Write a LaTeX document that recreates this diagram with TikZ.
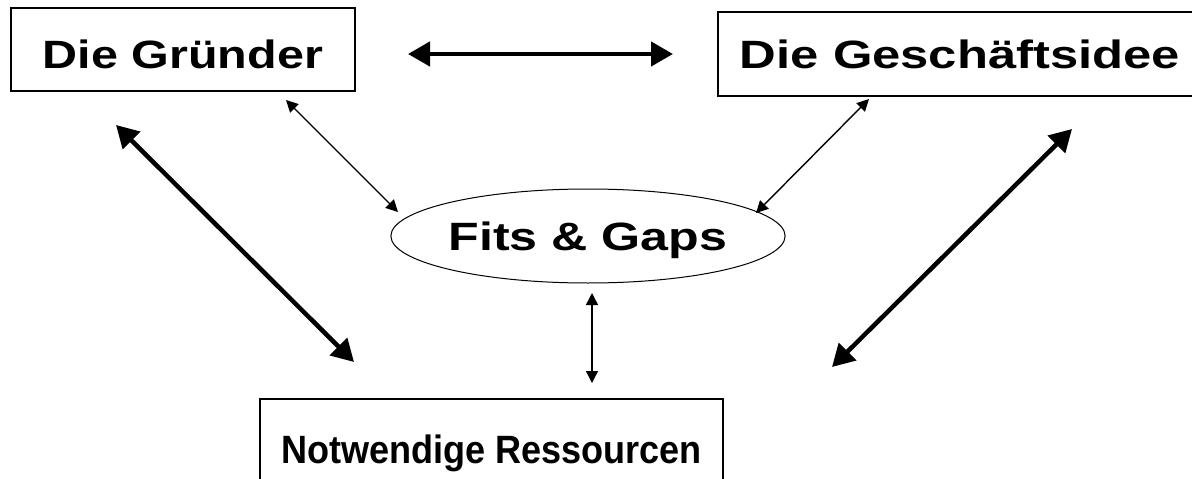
\documentclass[tikz,border=0pt]{standalone}
\usepackage{fontspec}
\setmainfont{Liberation Sans}
\usepackage{graphicx}
\usetikzlibrary{arrows.meta,shapes.geometric}
\begin{document}
\begin{tikzpicture}[x=1pt,y=-1pt,
  lbl/.style={font=\bfseries\fontsize{39.5}{42}\selectfont, text height=28.3pt, text depth=0pt, inner sep=0pt},
  box/.style={lbl, draw, line width=1.2pt, rectangle},
  big/.style={line width=4.5pt, {Triangle[length=22pt,width=24pt]}-{Triangle[length=22pt,width=24pt]}},
  small/.style={line width=1.4pt, {Triangle[length=12pt,width=12pt]}-{Triangle[length=12pt,width=12pt]}}]
\clip (0,0) rectangle (1192,479);
\node[box, minimum width=344pt, minimum height=83pt, text height=37.7pt] (gr) at (183,49.5) {\scalebox{1.227}[1]{Die Gründer}};
\node[box, minimum width=484pt, minimum height=84pt] (gi) at (960,54) {\scalebox{1.285}[1]{Die Geschäftsidee}};
\node[lbl, draw, ellipse, line width=1pt, minimum width=362pt, minimum height=94pt] (fg) at (588,236) {\scalebox{1.27}[1]{Fits \& Gaps}};
\node[box, minimum width=463pt, minimum height=100pt] (nr) at (491.5,449) {\scalebox{0.913}[1]{Notwendige Ressourcen}};
\coordinate (h1) at (408,54);
\coordinate (h2) at (673,54);
\coordinate (a1) at (286,100);
\coordinate (a2) at (398,212);
\coordinate (b1) at (116,125);
\coordinate (b2) at (354,362);
\coordinate (c1) at (869,99);
\coordinate (c2) at (756,213);
\coordinate (d1) at (1072,129);
\coordinate (d2) at (832,367);
\coordinate (e1) at (592,293);
\coordinate (e2) at (592,383);
\draw[big] (h1) -- (h2);
\draw[big] (b1) -- (b2);
\draw[big] (d1) -- (d2);
\draw[small] (a1) -- (a2);
\draw[small] (c1) -- (c2);
\draw[small] (e1) -- (e2);
\end{tikzpicture}
\end{document}
